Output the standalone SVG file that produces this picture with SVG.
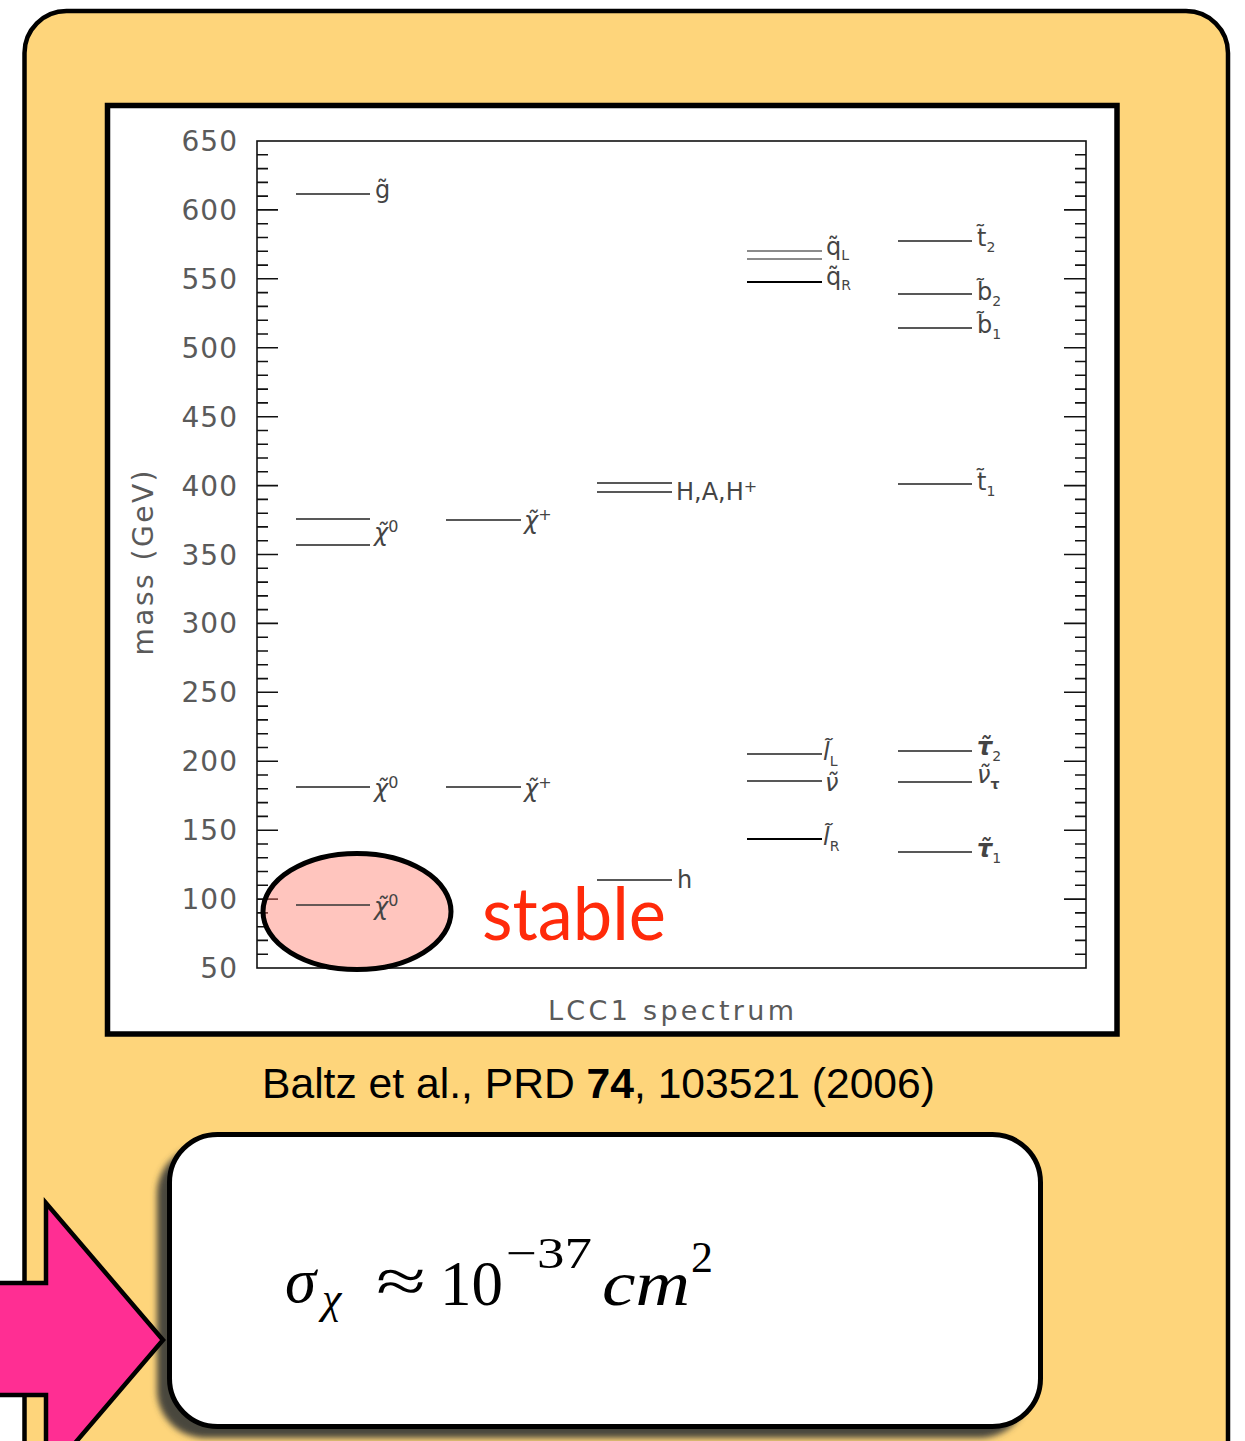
<svg xmlns="http://www.w3.org/2000/svg" width="1245" height="1441" viewBox="0 0 1245 1441">
<defs>
<style>
.tick{font-family:"DejaVu Sans",sans-serif;font-size:28px;fill:#5a5a5a;text-anchor:end;letter-spacing:1px}
.lab{font-family:"DejaVu Sans",sans-serif;font-size:24px;fill:#444}
.sub{font-size:14px}
.lvl{stroke:#222;stroke-width:1.4;fill:none}
.ax{stroke:#111;stroke-width:1.6;fill:none}
.serif{font-family:"Liberation Serif","Times New Roman",serif;fill:#000}
</style>
<filter id="blur" x="-10%" y="-10%" width="120%" height="120%"><feGaussianBlur stdDeviation="3"/></filter>
</defs>
<rect width="1245" height="1441" fill="#fff"/>
<g id="panel">
<rect x="24.5" y="11" width="1203.5" height="1480" rx="42" fill="#FED57B" stroke="#000" stroke-width="4.5"/>
</g>
<g id="plot">
<rect x="107.5" y="105.5" width="1009.5" height="928.5" fill="#fff" stroke="#000" stroke-width="5.5"/>
<rect x="257" y="141" width="829" height="827" class="ax"/>
<path class="ax" stroke-width="1.3" d="M257 954.2h11M257 940.4h11M257 926.7h11M257 912.9h11M257 899.1h21M257 885.3h11M257 871.5h11M257 857.7h11M257 844h11M257 830.2h21M257 816.4h11M257 802.6h11M257 788.8h11M257 775h11M257 761.3h21M257 747.5h11M257 733.7h11M257 719.9h11M257 706.1h11M257 692.3h21M257 678.6h11M257 664.8h11M257 651h11M257 637.2h11M257 623.4h21M257 609.6h11M257 595.9h11M257 582.1h11M257 568.3h11M257 554.5h21M257 540.7h11M257 526.9h11M257 513.2h11M257 499.4h11M257 485.6h21M257 471.8h11M257 458h11M257 444.2h11M257 430.5h11M257 416.7h21M257 402.9h11M257 389.1h11M257 375.3h11M257 361.5h11M257 347.8h21M257 334h11M257 320.2h11M257 306.4h11M257 292.6h11M257 278.8h21M257 265.1h11M257 251.3h11M257 237.5h11M257 223.7h11M257 209.9h21M257 196.1h11M257 182.4h11M257 168.6h11M257 154.8h11"/>
<path class="ax" stroke-width="1.3" d="M1086 954.2h-11M1086 940.4h-11M1086 926.7h-11M1086 912.9h-11M1086 899.1h-22M1086 885.3h-11M1086 871.5h-11M1086 857.7h-11M1086 844h-11M1086 830.2h-22M1086 816.4h-11M1086 802.6h-11M1086 788.8h-11M1086 775h-11M1086 761.3h-22M1086 747.5h-11M1086 733.7h-11M1086 719.9h-11M1086 706.1h-11M1086 692.3h-22M1086 678.6h-11M1086 664.8h-11M1086 651h-11M1086 637.2h-11M1086 623.4h-22M1086 609.6h-11M1086 595.9h-11M1086 582.1h-11M1086 568.3h-11M1086 554.5h-22M1086 540.7h-11M1086 526.9h-11M1086 513.2h-11M1086 499.4h-11M1086 485.6h-22M1086 471.8h-11M1086 458h-11M1086 444.2h-11M1086 430.5h-11M1086 416.7h-22M1086 402.9h-11M1086 389.1h-11M1086 375.3h-11M1086 361.5h-11M1086 347.8h-22M1086 334h-11M1086 320.2h-11M1086 306.4h-11M1086 292.6h-11M1086 278.8h-22M1086 265.1h-11M1086 251.3h-11M1086 237.5h-11M1086 223.7h-11M1086 209.9h-22M1086 196.1h-11M1086 182.4h-11M1086 168.6h-11M1086 154.8h-11"/>
<text class="tick" x="238" y="151">650</text>
<text class="tick" x="238" y="220">600</text>
<text class="tick" x="238" y="289">550</text>
<text class="tick" x="238" y="358">500</text>
<text class="tick" x="238" y="427">450</text>
<text class="tick" x="238" y="496">400</text>
<text class="tick" x="238" y="565">350</text>
<text class="tick" x="238" y="633">300</text>
<text class="tick" x="238" y="702">250</text>
<text class="tick" x="238" y="771">200</text>
<text class="tick" x="238" y="840">150</text>
<text class="tick" x="238" y="909">100</text>
<text class="tick" x="238" y="978">50</text>
<text transform="translate(153,563) rotate(-90)" text-anchor="middle" font-family="DejaVu Sans,sans-serif" font-size="28" fill="#5a5a5a" textLength="185" lengthAdjust="spacing">mass  (GeV)</text>
<text x="671" y="1020" text-anchor="middle" font-family="DejaVu Sans,sans-serif" font-size="27" fill="#5a5a5a" textLength="246" lengthAdjust="spacing">LCC1  spectrum</text>
</g>
<g id="levels">
<path class="lvl" d="M296 194H370M296 519H370M296 545H370M296 787H370M446 520H521M446 787H521M597 483H672M597 492H672M597 880H672M747 754H822M747 781H822M898 241H972M898 294H972M898 328H972M898 484H972M898 751H972M898 782H972M898 852H972"/>
<path stroke="#666" stroke-width="1.4" fill="none" d="M747 251H822M747 259H822"/>
<path stroke="#000" stroke-width="2" fill="none" d="M747 282H822M747 839H822"/>
</g>
<g id="labels">
<text class="lab" x="375" y="198">g̃</text>
<text class="lab" x="374" y="541"><tspan font-style="italic">χ̃</tspan><tspan font-size="16" dy="-9">0</tspan></text>
<text class="lab" x="524" y="529"><tspan font-style="italic">χ̃</tspan><tspan font-size="16" dy="-9">+</tspan></text>
<text class="lab" x="374" y="797"><tspan font-style="italic">χ̃</tspan><tspan font-size="16" dy="-9">0</tspan></text>
<text class="lab" x="524" y="797"><tspan font-style="italic">χ̃</tspan><tspan font-size="16" dy="-9">+</tspan></text>
<text class="lab" x="676" y="500" font-size="22">H,A,H<tspan font-size="16" dy="-8">+</tspan></text>
<text class="lab" x="677" y="888" font-size="22">h</text>
<text class="lab" x="826" y="255">q̃<tspan class="sub" dy="5">L</tspan></text>
<text class="lab" x="826" y="285">q̃<tspan class="sub" dy="5">R</tspan></text>
<text class="lab" x="977" y="246">t̃<tspan class="sub" dy="6">2</tspan></text>
<text class="lab" x="977" y="300">b̃<tspan class="sub" dy="6">2</tspan></text>
<text class="lab" x="977" y="333">b̃<tspan class="sub" dy="6">1</tspan></text>
<text class="lab" x="977" y="490">t̃<tspan class="sub" dy="6">1</tspan></text>
<text class="lab" x="823" y="760"><tspan font-style="italic">l̃</tspan><tspan class="sub" dy="6">L</tspan></text>
<text class="lab" x="825" y="791" font-style="italic">ν̃</text>
<text class="lab" x="823" y="845"><tspan font-style="italic">l̃</tspan><tspan class="sub" dy="6">R</tspan></text>
<text class="lab" x="977" y="755" font-weight="bold"><tspan font-style="italic">τ̃</tspan><tspan class="sub" font-weight="normal" dy="6">2</tspan></text>
<text class="lab" x="977" y="783"><tspan font-style="italic">ν̃</tspan><tspan class="sub" font-weight="bold" dy="6">τ</tspan></text>
<text class="lab" x="977" y="857" font-weight="bold"><tspan font-style="italic">τ̃</tspan><tspan class="sub" font-weight="normal" dy="6">1</tspan></text>
</g>
<g id="highlight">
<ellipse cx="357" cy="911.5" rx="94" ry="58" fill="#FF7F6E" fill-opacity="0.45" stroke="#000" stroke-width="5"/>
<path stroke="#333" stroke-width="1.4" fill="none" d="M296 905H370"/>
<text class="lab" x="374" y="915" fill="#3a3030"><tspan font-style="italic">χ̃</tspan><tspan font-size="16" dy="-9">0</tspan></text>
<text x="482" y="940" font-family="Lato,'Open Sans',sans-serif" font-size="74" fill="#FF2A0A" textLength="184" lengthAdjust="spacingAndGlyphs">stable</text>
</g>
<g id="citation">
<text x="262" y="1098" font-family="'Liberation Sans',Arial,sans-serif" font-size="42" fill="#000" textLength="673" lengthAdjust="spacingAndGlyphs">Baltz et al., PRD <tspan font-weight="bold">74</tspan>, 103521 (2006)</text>
</g>
<g id="formula">
<rect x="157" y="1146" width="871" height="292" rx="48" fill="#4a463c" filter="url(#blur)"/>
<rect x="169.5" y="1134.5" width="871" height="292" rx="48" fill="#fff" stroke="#000" stroke-width="5"/>
<text class="serif" font-size="63"><tspan x="285" y="1302" font-style="italic">σ</tspan><tspan x="322" y="1313" font-size="44" font-style="italic">χ</tspan><tspan x="376" y="1302" textLength="50" lengthAdjust="spacingAndGlyphs">≈</tspan><tspan x="440" y="1305">10</tspan><tspan x="506" y="1268" font-size="44" textLength="86" lengthAdjust="spacingAndGlyphs">−37</tspan><tspan x="602" y="1305" font-style="italic" textLength="88" lengthAdjust="spacingAndGlyphs">cm</tspan><tspan x="691" y="1272" font-size="44">2</tspan></text>
</g>
<g id="arrow">
<polygon points="-6,1283 46,1283 46,1203 163,1340 46,1477 46,1395 -6,1395" fill="#FF2E93" stroke="#000" stroke-width="4.5" stroke-linejoin="miter"/>
</g>
</svg>
